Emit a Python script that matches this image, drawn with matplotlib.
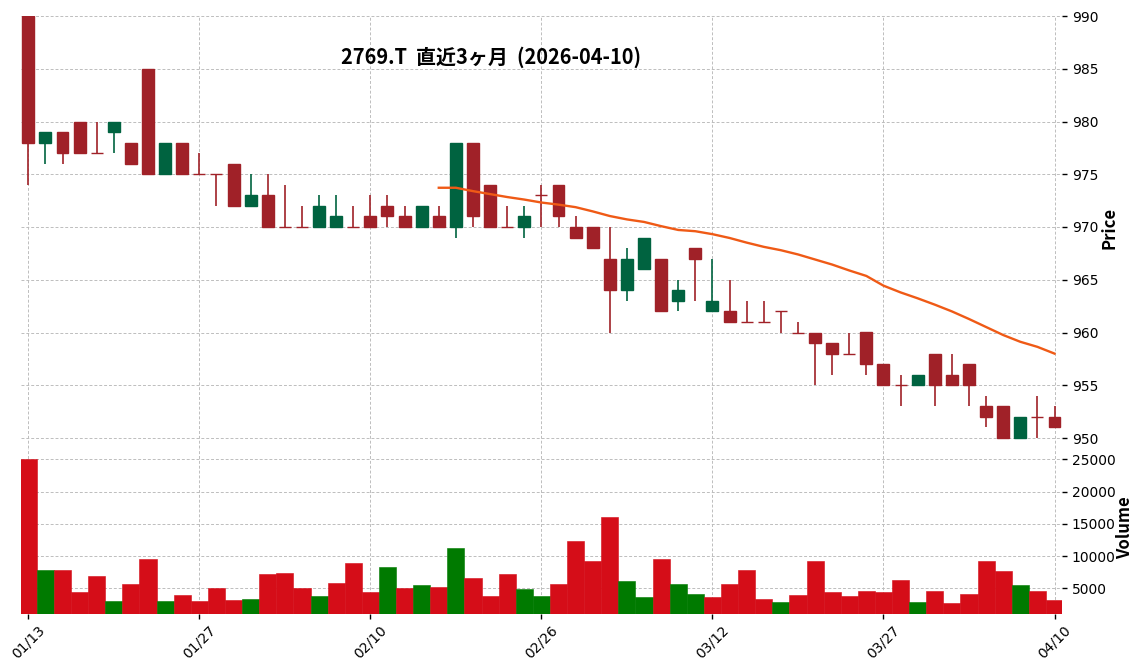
"""2769.T - last 3 months of daily candles + volume (charles-like look, plain matplotlib)."""
import matplotlib
matplotlib.use("Agg")
import matplotlib.pyplot as plt
import numpy as np
import pandas as pd

plt.rcParams.update({"font.family": ["DejaVu Sans"], "font.size": 10})
CJK = ["Noto Sans CJK JP", "DejaVu Sans"]

TICKER = "2769.T"
START, END = "2026-01-13", "2026-04-10"
JP_HOLIDAYS = ["2026-02-11", "2026-02-23", "2026-03-20"]
MAV = 25
TICK_EVERY = 10

# OHLC (JPY)
opens = [990, 978, 979, 980, 977, 979, 978, 985, 975, 978,
         975, 975, 976, 972, 973, 970, 970, 970, 970, 970,
         971, 972, 971, 970, 971, 970, 978, 974, 970, 970,
         973, 974, 970, 970, 967, 964, 966, 967, 963, 968,
         962, 962, 961, 961, 962, 960, 960, 959, 958, 960,
         957, 955, 955, 958, 956, 957, 953, 953, 950, 952,
         952]
highs = [990, 979, 979, 980, 980, 980, 978, 985, 978, 978,
         977, 975, 976, 975, 975, 974, 972, 973, 973, 972,
         973, 973, 972, 972, 972, 978, 978, 974, 972, 972,
         974, 974, 971, 970, 970, 968, 969, 967, 965, 968,
         967, 965, 963, 963, 962, 961, 960, 959, 960, 960,
         957, 956, 956, 958, 958, 957, 954, 953, 952, 954,
         953]
lows = [974, 976, 976, 977, 977, 977, 976, 975, 975, 975,
        975, 972, 972, 972, 970, 970, 970, 970, 970, 970,
        970, 970, 970, 970, 970, 969, 970, 970, 970, 969,
        970, 970, 969, 968, 960, 963, 966, 962, 962, 963,
        962, 961, 961, 961, 960, 960, 955, 956, 958, 956,
        955, 953, 955, 953, 955, 953, 951, 950, 950, 950,
        951]
closes = [978, 979, 977, 977, 977, 980, 976, 975, 978, 975,
          975, 975, 972, 973, 970, 970, 970, 972, 971, 970,
          970, 971, 970, 972, 970, 978, 971, 970, 970, 971,
          973, 971, 969, 968, 964, 967, 969, 962, 964, 967,
          963, 961, 961, 961, 962, 960, 959, 958, 958, 957,
          955, 955, 956, 955, 955, 955, 952, 950, 952, 952,
          951]
volumes = [25000, 7800, 7800, 4400, 6900, 3000, 5700, 9500, 3000, 4000,
           3000, 5000, 3200, 3350, 7200, 7400, 5000, 3800, 5800, 8900,
           4400, 8300, 5000, 5500, 5200, 11250, 6600, 3800, 7200, 4900,
           3800, 5700, 12300, 9200, 16000, 6100, 3650, 9500, 5700, 4100,
           3650, 5700, 7800, 3350, 2900, 4000, 9200, 4400, 3800, 4600,
           4400, 6300, 2900, 4600, 2700, 4100, 9200, 7700, 5500, 4600,
           3200]

UP, DOWN = "#006340", "#a02128"        # candles
VUP, VDOWN = "#007a00", "#d50d18"      # volume
MA_COLOR = "#ef5a16"
GRID_KW = dict(color="#bdbdbd", linestyle=(0, (3, 2)), linewidth=0.7)

dates = pd.bdate_range(START, END, freq="C", holidays=JP_HOLIDAYS)
df = pd.DataFrame({"Open": opens, "High": highs, "Low": lows,
                   "Close": closes, "Volume": volumes}, index=dates)
df["MA"] = df["Close"].rolling(MAV).mean()
x = np.arange(len(df))

up = (df["Open"] < df["Close"]).to_numpy()
ccolors = np.where(up, UP, DOWN)
# volume colour follows close vs previous close
vup = (df["Close"] > df["Close"].shift(1)).to_numpy()
vup[0] = up[0]
vcolors = np.where(vup, VUP, VDOWN)

W, H = 1144, 671


def px_rect(l, t, r, b):
    return [l / W, 1 - b / H, (r - l) / W, (b - t) / H]


fig = plt.figure(figsize=(W / 100, H / 100), dpi=100)
ax_p = fig.add_axes(px_rect(20.6, 16, 1062.2, 448))
ax_v = fig.add_axes(px_rect(20.6, 448, 1062.2, 613.7), sharex=ax_p)

# candles: wicks first, then bodies
ax_p.vlines(x, df["Low"], df["High"], colors=ccolors, linewidth=1.2, zorder=2)
body_lo = np.minimum(df["Open"], df["Close"])
body_h = (df["Close"] - df["Open"]).abs()
ax_p.bar(x, body_h, bottom=body_lo, width=0.7, color=ccolors,
         edgecolor=ccolors, linewidth=1.0, zorder=3)
ax_p.plot(x, df["MA"], color=MA_COLOR, linewidth=1.7, zorder=4)

ax_v.bar(x, df["Volume"], width=1.0, color=vcolors, edgecolor=vcolors,
         linewidth=0.4, zorder=3)

ax_p.set_xlim(-0.45, len(df) - 0.55)
ax_p.set_ylim(950 - 10 / 10.55, 990)
ax_v.set_ylim(1068, 25000 + 11.3 * 154.9)

ax_p.set_yticks(np.arange(950, 991, 5))
ax_v.set_yticks(np.arange(5000, 25001, 5000))
ticks = x[::TICK_EVERY]
ax_v.set_xticks(ticks)
ax_v.set_xticklabels(dates[ticks].strftime("%m/%d"), rotation=45, ha="center")

for ax in (ax_p, ax_v):
    ax.set_facecolor("none")
    for s in ax.spines.values():
        s.set_visible(False)
    ax.yaxis.tick_right()
    ax.tick_params(axis="y", length=3.5, width=1, pad=3.5)
    ax.grid(True, **GRID_KW)
    ax.set_axisbelow(True)
ax_p.tick_params(axis="x", length=0, labelbottom=False)
ax_v.tick_params(axis="x", length=3.5, width=1)

fig.text(1110 / W, 1 - 228 / H, "Price", rotation=90, ha="center", va="center",
         family=CJK, fontsize=12, fontweight="bold")
fig.text(1125 / W, 1 - 528 / H, "Volume", rotation=90, ha="center", va="center",
         family=CJK, fontsize=12, fontweight="bold")
fig.text(491 / W, 1 - 57 / H, f"{TICKER}  直近3ヶ月  ({END})", ha="center",
         va="center", family=CJK, fontsize=14.4, fontweight="bold")

fig.savefig("out.png", dpi=100)
